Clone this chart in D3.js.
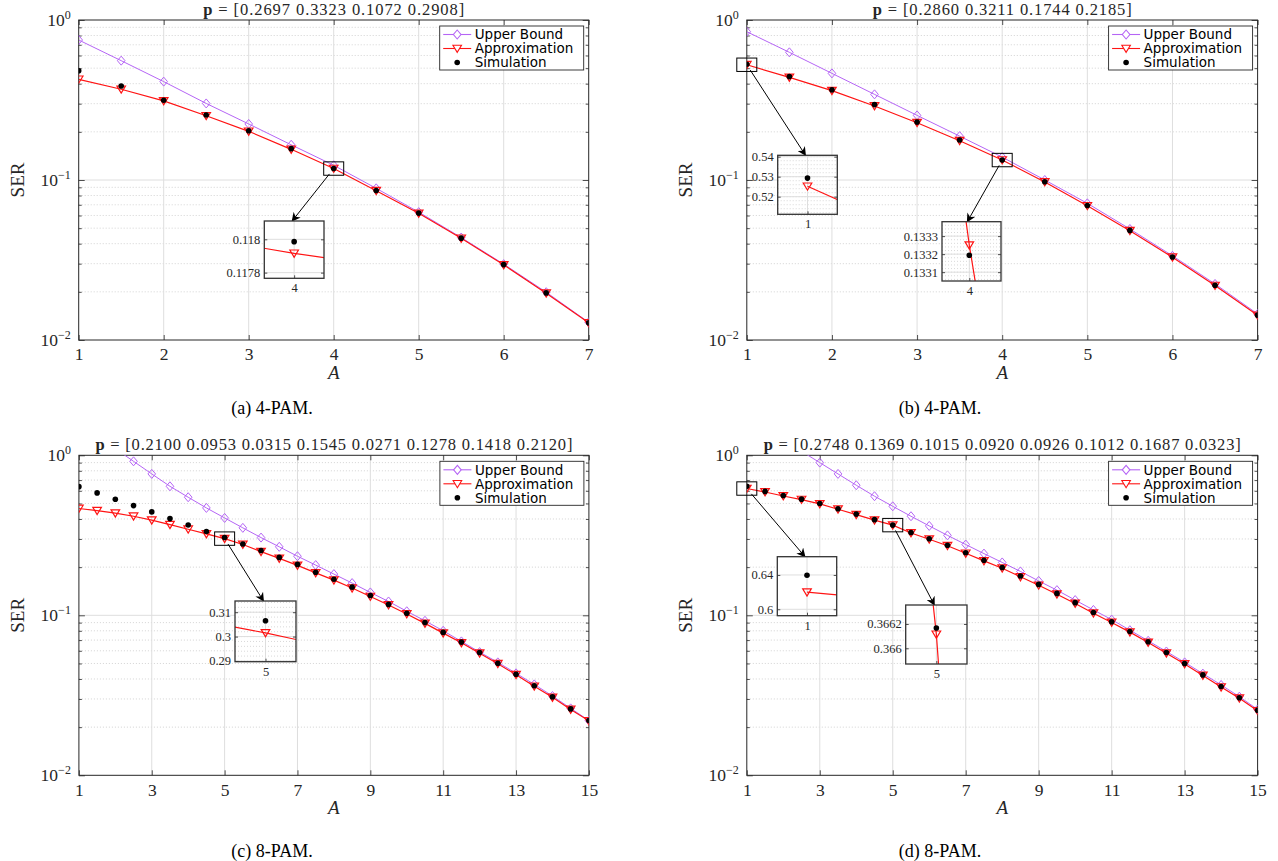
<!DOCTYPE html>
<html>
<head>
<meta charset="utf-8">
<script src="https://cdn.jsdelivr.net/npm/d3@7"></script>
<style>
  body { margin: 0; background: #fff; }
</style>
</head>
<body>
<svg id="fig" width="1278" height="861"></svg>
<script>
// ---- data ----
var aFour = [1, 1.5, 2, 2.5, 3, 3.5, 4, 4.5, 5, 5.5, 6, 6.5, 7];
var aEight = [1, 1.5, 2, 2.5, 3, 3.5, 4, 4.5, 5, 5.5, 6, 6.5, 7, 7.5, 8, 8.5, 9, 9.5, 10,
              10.5, 11, 11.5, 12, 12.5, 13, 13.5, 14, 14.5, 15];

var upperA  = [0.75, 0.557, 0.412, 0.301, 0.224, 0.166, 0.1236, 0.0887, 0.063, 0.0437, 0.0298, 0.0199, 0.0129];
var approxA = [0.426, 0.369, 0.312, 0.252, 0.2015, 0.1555, 0.117916, 0.0857, 0.0619, 0.0432, 0.0295, 0.0196, 0.0128];
var simA    = [0.482, 0.387, 0.315, 0.255, 0.203, 0.157, 0.117986, 0.0859, 0.0621, 0.0433, 0.0296, 0.0197, 0.0128];

var upperB  = [0.845, 0.628, 0.464, 0.343, 0.2535, 0.188, 0.139, 0.1, 0.0715, 0.0494, 0.0336, 0.0224, 0.01455];
var approxB = [0.5252, 0.438, 0.362, 0.29, 0.228, 0.176, 0.13325, 0.0972, 0.069, 0.0482, 0.0329, 0.0219, 0.01426];
var simB    = [0.5293, 0.443, 0.366, 0.296, 0.23, 0.178, 0.133194, 0.0975, 0.0693, 0.0484, 0.033, 0.022, 0.0143];

var upperC  = [1.5, 1.3, 1.1, 0.917, 0.765, 0.64, 0.547, 0.469, 0.406, 0.352, 0.306, 0.268, 0.234, 0.206, 0.181,
               0.159, 0.139, 0.122, 0.106, 0.0924, 0.080, 0.0687, 0.0589, 0.0508, 0.0434, 0.037, 0.0313, 0.0262, 0.022];
var approxC = [0.465, 0.451, 0.435, 0.416, 0.393, 0.369, 0.345, 0.323, 0.3015, 0.277, 0.25, 0.227, 0.205, 0.184, 0.166,
               0.148, 0.131, 0.116, 0.102, 0.089, 0.0774, 0.0673, 0.058, 0.0498, 0.0425, 0.036, 0.0307, 0.0258, 0.0219];
var simC    = [0.637, 0.582, 0.531, 0.485, 0.443, 0.402, 0.367, 0.334, 0.3065, 0.279, 0.254, 0.23, 0.208, 0.186, 0.168,
               0.15, 0.133, 0.117, 0.103, 0.09, 0.0782, 0.068, 0.0586, 0.0502, 0.0428, 0.0363, 0.0309, 0.026, 0.022];

var upperD  = [1.8, 1.5, 1.25, 1.06, 0.9, 0.765, 0.65, 0.555, 0.48, 0.416, 0.362, 0.316, 0.277, 0.243, 0.214,
               0.188, 0.164, 0.1436, 0.1245, 0.108, 0.094, 0.0807, 0.0693, 0.0594, 0.0508, 0.0432, 0.0367, 0.031, 0.0258];
var approxD = [0.6199, 0.59, 0.557, 0.529, 0.497, 0.46, 0.426, 0.393, 0.366115, 0.327, 0.299, 0.272, 0.244, 0.219, 0.197,
               0.174, 0.154, 0.1355, 0.1186, 0.103, 0.0902, 0.0785, 0.0677, 0.058, 0.0496, 0.0421, 0.0356, 0.0303, 0.0253];
var simD    = [0.6397, 0.595, 0.561, 0.532, 0.5, 0.463, 0.429, 0.396, 0.366167, 0.329, 0.301, 0.274, 0.246, 0.221, 0.199,
               0.176, 0.156, 0.137, 0.12, 0.104, 0.091, 0.0792, 0.0683, 0.0585, 0.05, 0.0424, 0.0359, 0.0305, 0.0255];

var probA = "[0.2697 0.3323 0.1072 0.2908]";
var probB = "[0.2860 0.3211 0.1744 0.2185]";
var probC = "[0.2100 0.0953 0.0315 0.1545 0.0271 0.1278 0.1418 0.2120]";
var probD = "[0.2748 0.1369 0.1015 0.0920 0.0926 0.1012 0.1687 0.0323]";

var xTicksFour = [1, 2, 3, 4, 5, 6, 7];
var xTicksEight = [1, 3, 5, 7, 9, 11, 13, 15];
var yTicks = [0.01, 0.1, 1];
var yExp = ["\u22122", "\u22121", "0"];
var seriesNames = ["Upper Bound", "Approximation", "Simulation"];
var captions = ["(a) 4-PAM.", "(b) 4-PAM.", "(c) 8-PAM.", "(d) 8-PAM."];

// ---- layout ----
var purple = "#b565f5", red = "#ff1414", ink = "#262626";
var serif = "'Liberation Serif', 'DejaVu Serif', serif";

var panels = [
  {A: aFour, up: upperA, ap: approxA, sim: simA, p: probA, xt: xTicksFour, cap: captions[0],
   l: 78.7, r: 588.7, t: 20, b: 340, pw: 261, capX: 272, capY: 414},
  {A: aFour, up: upperB, ap: approxB, sim: simB, p: probB, xt: xTicksFour, cap: captions[1],
   l: 746.8, r: 1257.6, t: 20, b: 340, pw: 259, capX: 940, capY: 414},
  {A: aEight, up: upperC, ap: approxC, sim: simC, p: probC, xt: xTicksEight, cap: captions[2],
   l: 78.9, r: 588.9, t: 455.3, b: 775.3, pw: 477, capX: 272, capY: 857},
  {A: aEight, up: upperD, ap: approxD, sim: simD, p: probD, xt: xTicksEight, cap: captions[3],
   l: 746.8, r: 1257.6, t: 455.3, b: 775.3, pw: 477, capX: 940, capY: 857}
];

// zoom insets: which panel, which A, inset limits and where the inset box sits
var insets = [
  {panel: 0, at: 4, xDom: [3.9996, 4.0004], yDom: [0.117766, 0.11811], yt: ["0.1178", "0.118"], minor: 0,
   box: [264.3, 221, 59.7, 57.3]},
  {panel: 1, at: 1, xDom: [0.962, 1.038], yDom: [0.5112, 0.5407], yt: ["0.52", "0.53", "0.54"], minor: 0.002,
   box: [777.7, 155.3, 59.6, 59]},
  {panel: 1, at: 4, xDom: [3.98712, 4.01495], yDom: [0.133051, 0.13338], yt: ["0.1331", "0.1332", "0.1333"], minor: 0.00002,
   box: [942, 221.7, 59, 59.3]},
  {panel: 2, at: 5, xDom: [4.945, 5.055], yDom: [0.2897, 0.3146], yt: ["0.29", "0.3", "0.31"], minor: 0.002,
   box: [235, 601, 61, 60.7]},
  {panel: 3, at: 1, xDom: [0.948, 1.052], yDom: [0.5925, 0.6613], yt: ["0.6", "0.64"], minor: 0,
   box: [777.3, 556.7, 59.4, 59]},
  {panel: 3, at: 5, xDom: [4.9562, 5.0438], yDom: [0.365871, 0.366356], yt: ["0.366", "0.3662"], minor: 0,
   box: [905.7, 605, 61.3, 59]}
];

var svg = d3.select("#fig");
var defs = svg.append("defs");
defs.append("marker").attr("id", "ahead").attr("viewBox", "0 0 10 10")
  .attr("refX", 9).attr("refY", 5).attr("markerWidth", 9).attr("markerHeight", 9)
  .attr("markerUnits", "userSpaceOnUse").attr("orient", "auto")
  .append("path").attr("d", "M0,0 L10,5 L0,10 L3,5 Z").attr("fill", "#000");

var diamond = "M0,-4.5L3.8,0L0,4.5L-3.8,0Z";
var triangle = "M-4.3,-3.3L4.3,-3.3L0,3.9Z";

function rows(P) {
  return P.A.map(function(a, i) { return {a: a, up: P.up[i], ap: P.ap[i], sim: P.sim[i]}; });
}

function drawSeries(g, rs, x, y, clipId, keep) {
  var body = g.append("g").attr("clip-path", "url(#" + clipId + ")");
  var lineUp = d3.line().x(function(d) { return x(d.a); }).y(function(d) { return y(d.up); });
  var lineAp = d3.line().x(function(d) { return x(d.a); }).y(function(d) { return y(d.ap); });
  body.append("path").datum(rs).attr("d", lineUp).attr("fill", "none").attr("stroke", purple).attr("stroke-width", 1);
  body.append("path").datum(rs).attr("d", lineAp).attr("fill", "none").attr("stroke", red).attr("stroke-width", 1.2);
  body.selectAll(".mu").data(rs.filter(function(d) { return keep(d.up); })).enter().append("path")
    .attr("d", diamond).attr("transform", function(d) { return "translate(" + x(d.a) + "," + y(d.up) + ")"; })
    .attr("fill", "none").attr("stroke", purple).attr("stroke-width", 1);
  body.selectAll(".ma").data(rs.filter(function(d) { return keep(d.ap); })).enter().append("path")
    .attr("d", triangle).attr("transform", function(d) { return "translate(" + x(d.a) + "," + y(d.ap) + ")"; })
    .attr("fill", "none").attr("stroke", red).attr("stroke-width", 1.2);
  body.selectAll(".ms").data(rs.filter(function(d) { return keep(d.sim); })).enter().append("circle")
    .attr("cx", function(d) { return x(d.a); }).attr("cy", function(d) { return y(d.sim); })
    .attr("r", 2.8).attr("fill", "#000");
}

panels.forEach(function(P, pi) {
  var g = svg.append("g");
  var x = d3.scaleLinear().domain([P.A[0], P.A[P.A.length - 1]]).range([P.l, P.r]);
  var y = d3.scaleLog().domain([0.01, 1]).range([P.b, P.t]);
  P.x = x; P.y = y;
  var minors = [];
  [0.01, 0.1].forEach(function(d) { for (var k = 2; k <= 9; k++) minors.push(d * k); });

  // grid
  g.selectAll(".mg").data(minors).enter().append("line")
    .attr("x1", P.l).attr("x2", P.r).attr("y1", function(d) { return y(d); }).attr("y2", function(d) { return y(d); })
    .attr("stroke", "#c8c8c8").attr("stroke-width", 0.8).attr("stroke-dasharray", "1,2");
  g.selectAll(".gy").data([0.1]).enter().append("line")
    .attr("x1", P.l).attr("x2", P.r).attr("y1", function(d) { return y(d); }).attr("y2", function(d) { return y(d); })
    .attr("stroke", "#dedede").attr("stroke-width", 1);
  g.selectAll(".gx").data(P.xt.slice(1, -1)).enter().append("line")
    .attr("x1", function(d) { return x(d); }).attr("x2", function(d) { return x(d); }).attr("y1", P.t).attr("y2", P.b)
    .attr("stroke", "#dedede").attr("stroke-width", 1);

  // axes
  var xb = g.append("g").attr("transform", "translate(0," + P.b + ")")
    .call(d3.axisBottom(x).tickValues(P.xt).tickSizeInner(-5).tickSizeOuter(0).tickPadding(8).tickFormat(d3.format("d")));
  g.append("g").attr("transform", "translate(0," + P.t + ")")
    .call(d3.axisTop(x).tickValues(P.xt).tickSizeInner(-5).tickSizeOuter(0).tickFormat(""));
  var yl = g.append("g").attr("transform", "translate(" + P.l + ",0)")
    .call(d3.axisLeft(y).tickValues(yTicks).tickSizeInner(-6).tickSizeOuter(0).tickPadding(8).tickFormat(function() { return "10"; }));
  g.append("g").attr("transform", "translate(" + P.r + ",0)")
    .call(d3.axisRight(y).tickValues(yTicks).tickSizeInner(-6).tickSizeOuter(0).tickFormat(""));
  g.append("g").attr("transform", "translate(" + P.l + ",0)")
    .call(d3.axisLeft(y).tickValues(minors).tickSizeInner(-3).tickSizeOuter(0).tickFormat(""));
  g.append("g").attr("transform", "translate(" + P.r + ",0)")
    .call(d3.axisRight(y).tickValues(minors).tickSizeInner(-3).tickSizeOuter(0).tickFormat(""));
  g.selectAll(".domain").remove();
  g.selectAll(".tick line").attr("stroke", ink).attr("stroke-width", 0.8);
  xb.selectAll("text").attr("font-family", serif).attr("font-size", 17.5).attr("fill", ink);
  yl.selectAll("text").attr("font-family", serif).attr("font-size", 17.5).attr("fill", ink)
    .each(function(d, i) {
      d3.select(this).append("tspan").attr("dy", -7).attr("font-size", 12).text(yExp[i]);
    });

  g.append("rect").attr("x", P.l).attr("y", P.t).attr("width", P.r - P.l).attr("height", P.b - P.t)
    .attr("fill", "none").attr("stroke", ink).attr("stroke-width", 1);

  // series
  var clipId = "clip" + pi;
  defs.append("clipPath").attr("id", clipId).append("rect")
    .attr("x", P.l).attr("y", P.t).attr("width", P.r - P.l).attr("height", P.b - P.t);
  drawSeries(g, rows(P), x, y, clipId, function(v) { return v <= 1 && v >= 0.01; });

  // labels
  var mid = (P.l + P.r) / 2;
  var title = g.append("text").attr("x", mid).attr("y", P.t - 5).attr("text-anchor", "middle")
    .attr("font-family", serif).attr("font-size", 16.5).attr("fill", ink)
    .attr("textLength", P.pw).attr("lengthAdjust", "spacing");
  title.append("tspan").attr("font-weight", "bold").text("p");
  title.append("tspan").text(" = " + P.p);
  g.append("text").attr("x", mid).attr("y", P.b + 39).attr("text-anchor", "middle")
    .attr("font-family", serif).attr("font-style", "italic").attr("font-size", 19).attr("fill", ink).text("A");
  g.append("text").attr("transform", "translate(" + (P.l - 55) + "," + ((P.t + P.b) / 2) + ") rotate(-90)")
    .attr("text-anchor", "middle").attr("font-family", serif).attr("font-size", 19).attr("fill", ink).text("SER");
  g.append("text").attr("x", P.capX).attr("y", P.capY).attr("text-anchor", "middle")
    .attr("font-family", serif).attr("font-size", 18).attr("fill", "#000").text(P.cap);

  // legend
  var lw = 144, lh = 44, lx = P.r - lw - 5, ly = P.t + 6;
  var lg = g.append("g").attr("transform", "translate(" + lx + "," + ly + ")");
  lg.append("rect").attr("width", lw).attr("height", lh).attr("fill", "#fff").attr("stroke", ink).attr("stroke-width", 0.9);
  var item = lg.selectAll(".li").data(seriesNames).enter().append("g")
    .attr("transform", function(d, i) { return "translate(0," + (8.5 + i * 14) + ")"; });
  item.filter(function(d, i) { return i < 2; }).append("line").attr("x1", 3.5).attr("x2", 31.5)
    .attr("stroke", function(d, i) { return i === 0 ? purple : red; }).attr("stroke-width", 1.1);
  item.filter(function(d, i) { return i < 2; }).append("path")
    .attr("d", function(d, i) { return i === 0 ? diamond : triangle; }).attr("transform", "translate(17.5,0)")
    .attr("fill", "#fff").attr("stroke", function(d, i) { return i === 0 ? purple : red; }).attr("stroke-width", 1.1);
  item.filter(function(d, i) { return i === 2; }).append("circle").attr("cx", 17.5).attr("r", 2.8).attr("fill", "#000");
  item.append("text").attr("x", 35).attr("dy", "0.36em").attr("font-family", "'DejaVu Sans', sans-serif")
    .attr("font-size", 13.5).attr("fill", "#000").text(function(d) { return d; });
});

// insets
insets.forEach(function(Z, zi) {
  var P = panels[Z.panel];
  var g = svg.append("g");
  var bx = Z.box[0], by = Z.box[1], bw = Z.box[2], bh = Z.box[3];
  var xi = d3.scaleLinear().domain(Z.xDom).range([bx, bx + bw]);
  var yi = d3.scaleLinear().domain(Z.yDom).range([by + bh, by]);
  var idx = P.A.indexOf(Z.at);

  // source box on the main axes, and the arrow to the inset
  var cx = P.x(Z.at), cy = P.y(P.ap[idx]);
  var sw = 20, sh = 13.4;
  g.append("rect").attr("x", cx - sw / 2).attr("y", cy - sh / 2).attr("width", sw).attr("height", sh)
    .attr("fill", "none").attr("stroke", "#000").attr("stroke-width", 1);
  var tx = xi(Z.at) - 2, ty = by;
  var dx = tx - cx, dy = ty - cy;
  var s = Math.min((sw / 2) / Math.abs(dx || 1e-9), (sh / 2) / Math.abs(dy || 1e-9));
  g.append("line").attr("x1", cx + dx * s * 0.8).attr("y1", cy + dy * s * 0.8).attr("x2", tx).attr("y2", ty)
    .attr("stroke", "#000").attr("stroke-width", 1).attr("marker-end", "url(#ahead)");

  // inset axes
  g.append("rect").attr("x", bx).attr("y", by).attr("width", bw).attr("height", bh).attr("fill", "#fff");
  if (Z.minor) {
    g.selectAll(".im").data(d3.range(Math.ceil(Z.yDom[0] / Z.minor), Math.floor(Z.yDom[1] / Z.minor) + 1)
        .map(function(k) { return k * Z.minor; })).enter().append("line")
      .attr("x1", bx).attr("x2", bx + bw).attr("y1", function(d) { return yi(d); }).attr("y2", function(d) { return yi(d); })
      .attr("stroke", "#c8c8c8").attr("stroke-width", 0.7).attr("stroke-dasharray", "1,2");
  }
  g.selectAll(".ig").data(Z.yt).enter().append("line")
    .attr("x1", bx).attr("x2", bx + bw).attr("y1", function(d) { return yi(+d); }).attr("y2", function(d) { return yi(+d); })
    .attr("stroke", "#dedede").attr("stroke-width", 1);
  g.append("line").attr("x1", xi(Z.at)).attr("x2", xi(Z.at)).attr("y1", by).attr("y2", by + bh)
    .attr("stroke", "#dedede").attr("stroke-width", 1);

  var clipId = "iclip" + zi;
  defs.append("clipPath").attr("id", clipId).append("rect").attr("x", bx).attr("y", by).attr("width", bw).attr("height", bh);
  var near = rows(P).filter(function(d) { return Math.abs(d.a - Z.at) <= 0.5; });
  drawSeries(g, near, xi, yi, clipId, function(v) { return v >= Z.yDom[0] && v <= Z.yDom[1]; });

  g.append("g").attr("transform", "translate(" + bx + ",0)")
    .call(d3.axisLeft(yi).tickValues(Z.yt.map(Number)).tickSizeInner(-3).tickSizeOuter(0).tickPadding(4)
      .tickFormat(function(d, i) { return Z.yt[i]; }));
  g.append("g").attr("transform", "translate(" + (bx + bw) + ",0)")
    .call(d3.axisRight(yi).tickValues(Z.yt.map(Number)).tickSizeInner(-3).tickSizeOuter(0).tickFormat(""));
  g.append("g").attr("transform", "translate(0," + (by + bh) + ")")
    .call(d3.axisBottom(xi).tickValues([Z.at]).tickSizeInner(-3).tickSizeOuter(0).tickPadding(5).tickFormat(d3.format("d")));
  g.selectAll(".domain").remove();
  g.selectAll(".tick line").attr("stroke", ink).attr("stroke-width", 0.8);
  g.selectAll(".tick text").attr("font-family", serif).attr("font-size", 12.5).attr("fill", ink);
  g.append("rect").attr("x", bx).attr("y", by).attr("width", bw).attr("height", bh)
    .attr("fill", "none").attr("stroke", "#333").attr("stroke-width", 1.3);
});
</script>
</body>
</html>
